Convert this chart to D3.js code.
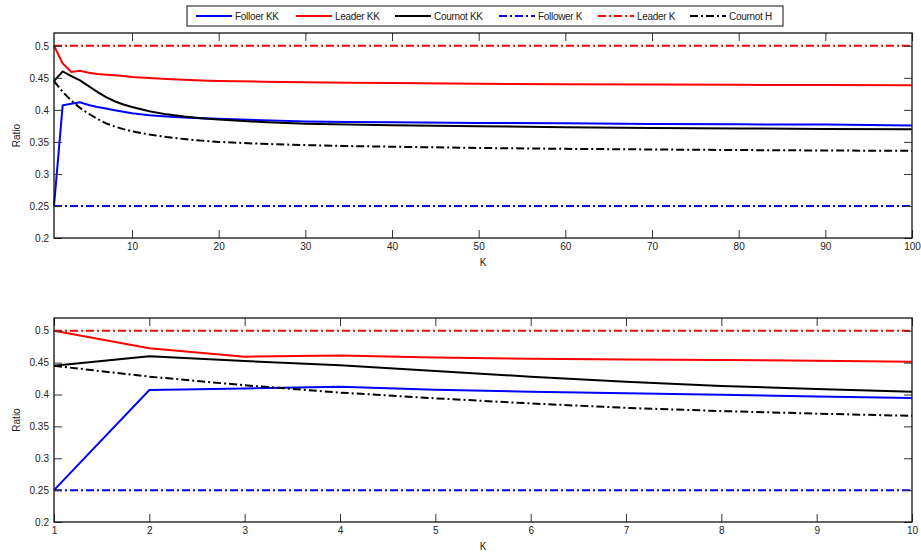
<!DOCTYPE html>
<html>
<head>
<meta charset="utf-8">
<script src="https://cdn.jsdelivr.net/npm/d3@7"></script>
<style>
  body { margin: 0; background: #fff; }
  text { font-family: "Liberation Sans", Arial, sans-serif; fill: #222; }
</style>
</head>
<body>
<div id="graph"></div>
<script>
const kValues = [1, 2, 3, 4, 5, 6, 7, 8, 9, 10, 12, 14, 16, 18, 20, 25, 30, 35, 40, 50, 60, 70, 80, 90, 100]

const followerKK = [0.25, 0.407, 0.4095, 0.412, 0.4075, 0.4045, 0.402, 0.3995, 0.397, 0.3946,
    0.3915, 0.3895, 0.388, 0.387, 0.386, 0.384, 0.382, 0.381, 0.3805, 0.3795, 0.379, 0.378, 0.3775, 0.377, 0.3758]
const leaderKK = [0.5, 0.4724, 0.4593, 0.461, 0.458, 0.456, 0.455, 0.454, 0.453, 0.4515,
    0.4497, 0.4482, 0.447, 0.446, 0.4452, 0.444, 0.4432, 0.4425, 0.4418, 0.4408, 0.44, 0.4395, 0.4391, 0.4388, 0.4386]
const cournotKK = [0.445, 0.46, 0.4526, 0.446, 0.437, 0.428, 0.42, 0.4135, 0.4085, 0.4045,
    0.398, 0.393, 0.3895, 0.387, 0.3848, 0.381, 0.3785, 0.377, 0.376, 0.3745, 0.373, 0.3718, 0.371, 0.3702, 0.3697]
const followerK = [0.25, 0.25, 0.25, 0.25, 0.25, 0.25, 0.25, 0.25, 0.25, 0.25,
    0.25, 0.25, 0.25, 0.25, 0.25, 0.25, 0.25, 0.25, 0.25, 0.25, 0.25, 0.25, 0.25, 0.25, 0.25]
const leaderK = [0.5, 0.5, 0.5, 0.5, 0.5, 0.5, 0.5, 0.5, 0.5, 0.5,
    0.5, 0.5, 0.5, 0.5, 0.5, 0.5, 0.5, 0.5, 0.5, 0.5, 0.5, 0.5, 0.5, 0.5, 0.5]
const cournotH = [0.445, 0.428, 0.4145, 0.403, 0.394, 0.386, 0.379, 0.374, 0.37, 0.3665,
    0.3615, 0.3575, 0.3545, 0.352, 0.35, 0.347, 0.345, 0.3435, 0.3425, 0.3405, 0.3392, 0.3382, 0.3373, 0.3366, 0.336]

const seriesNames = ["Folloer KK", "Leader KK", "Cournot KK", "Follower K", "Leader K", "Cournot H"]
const yTicks = [0.2, 0.25, 0.3, 0.35, 0.4, 0.45, 0.5]
const xTicksTop = [10, 20, 30, 40, 50, 60, 70, 80, 90, 100]
const xTicksBottom = [1, 2, 3, 4, 5, 6, 7, 8, 9, 10]

const width = 921
const height = 557
const dashDot = "8,3,2,3"

const series = [
    { name: seriesNames[0], values: followerKK, color: "#0000ff", dash: null },
    { name: seriesNames[1], values: leaderKK, color: "#ff0000", dash: null },
    { name: seriesNames[2], values: cournotKK, color: "#000000", dash: null },
    { name: seriesNames[3], values: followerK, color: "#0000ff", dash: dashDot },
    { name: seriesNames[4], values: leaderK, color: "#ff0000", dash: dashDot },
    { name: seriesNames[5], values: cournotH, color: "#000000", dash: dashDot }
]

const svg = d3.select("#graph")
    .append("svg")
    .attr("width", width)
    .attr("height", height)

function drawPanel(top, bottom, kMax, xTicks) {
    const left = 54, right = 912
    const x = d3.scaleLinear().domain([1, kMax]).range([left, right])
    const y = d3.scaleLinear().domain([0.2, 0.52]).range([bottom, top])
    const g = svg.append("g")
    const fmt = d => String(+d.toFixed(2))

    // lines
    series.forEach(s => {
        const pts = kValues.map((k, i) => [k, s.values[i]]).filter(p => p[0] <= kMax)
        g.append("path").datum(pts)
            .attr("fill", "none")
            .attr("stroke", s.color)
            .attr("stroke-width", 2)
            .attr("stroke-dasharray", s.dash)
            .attr("d", d3.line().x(d => x(d[0])).y(d => y(d[1])))
    })

    // axes, ticks pointing inward on all four sides
    const axL = g.append("g").attr("transform", "translate(" + left + ",0)")
        .call(d3.axisLeft(y).tickValues(yTicks).tickFormat(fmt).tickSizeInner(-8).tickSizeOuter(0).tickPadding(5))
    const axR = g.append("g").attr("transform", "translate(" + right + ",0)")
        .call(d3.axisRight(y).tickValues(yTicks).tickFormat("").tickSizeInner(-8).tickSizeOuter(0))
    const axB = g.append("g").attr("transform", "translate(0," + bottom + ")")
        .call(d3.axisBottom(x).tickValues(xTicks).tickFormat(d3.format("d")).tickSizeInner(-8).tickSizeOuter(0).tickPadding(5))
    const axT = g.append("g").attr("transform", "translate(0," + top + ")")
        .call(d3.axisTop(x).tickValues(xTicks).tickFormat("").tickSizeInner(-8).tickSizeOuter(0))
    ;[axL, axR, axB, axT].forEach(a => {
        a.select(".domain").remove()
        a.selectAll("line").attr("stroke", "#333")
        a.selectAll("text").attr("font-size", 10).attr("fill", "#222")
    })

    g.append("rect")
        .attr("x", left).attr("y", top)
        .attr("width", right - left).attr("height", bottom - top)
        .attr("fill", "none").attr("stroke", "#111").attr("stroke-width", 1.3)

    g.append("text").attr("x", (left + right) / 2).attr("y", bottom + 28)
        .attr("text-anchor", "middle").attr("font-size", 10).text("K")
    g.append("text")
        .attr("transform", "translate(20," + (top + bottom) / 2 + ") rotate(-90)")
        .attr("text-anchor", "middle").attr("font-size", 10).text("Ratio")
}

drawPanel(33, 238, 100, xTicksTop)
drawPanel(318, 522, 10, xTicksBottom)

// legend
const legX = [196, 296, 395, 499, 598, 690]
const leg = svg.append("g")
leg.append("rect").attr("x", 187).attr("y", 6).attr("width", 596).attr("height", 20)
    .attr("fill", "#fff").attr("stroke", "#111").attr("stroke-width", 1)
series.forEach((s, i) => {
    leg.append("line")
        .attr("x1", legX[i]).attr("x2", legX[i] + 36)
        .attr("y1", 16).attr("y2", 16)
        .attr("stroke", s.color).attr("stroke-width", 2)
        .attr("stroke-dasharray", s.dash)
    leg.append("text").attr("x", legX[i] + 39).attr("y", 19.5)
        .attr("font-size", 10).attr("letter-spacing", -0.3).text(s.name)
})
</script>
</body>
</html>
